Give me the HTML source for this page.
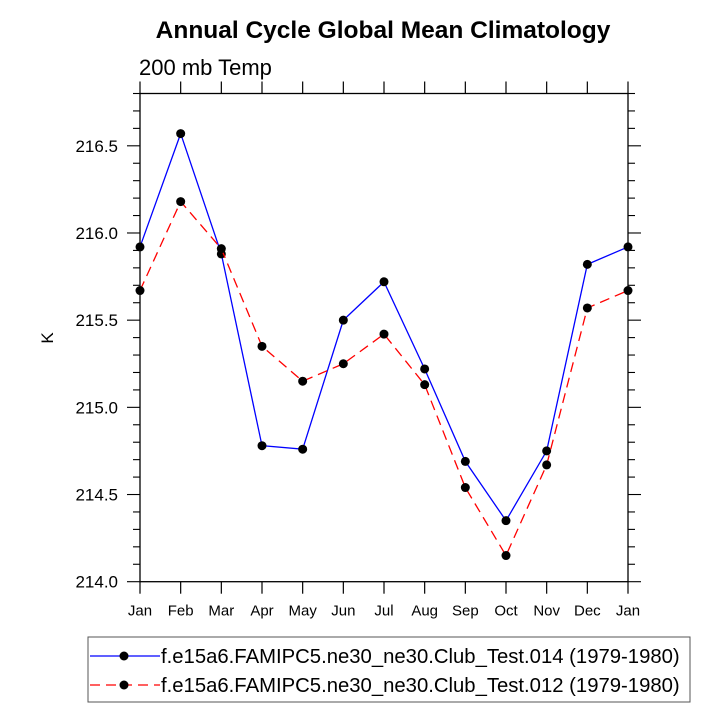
<!DOCTYPE html>
<html><head><meta charset="utf-8"><style>
body{margin:0;background:#fff}
svg{display:block;font-family:"Liberation Sans",Arial,sans-serif}
</style></head><body>
<svg id="c" width="722" height="722">
<text x="383" y="38" text-anchor="middle" font-size="24.5" font-weight="bold">Annual Cycle Global Mean Climatology</text>
<text x="139" y="75" font-size="22">200 mb Temp</text>
<text transform="translate(53,338) rotate(-90)" text-anchor="middle" font-size="17">K</text>
<g id="axes"></g>
<g id="series"></g>
<g>
<rect x="88" y="637" width="602" height="65" fill="none" stroke="#555" stroke-width="1"/>
<line x1="90" y1="656" x2="160" y2="656" stroke="#0000ff" stroke-width="1.3"/>
<circle cx="124" cy="656" r="4.5" fill="#000"/>
<text x="161" y="663" font-size="20.3">f.e15a6.FAMIPC5.ne30_ne30.Club_Test.014 (1979-1980)</text>
<line x1="90" y1="685" x2="160" y2="685" stroke="#ff0000" stroke-width="1.3" stroke-dasharray="10,6"/>
<circle cx="124" cy="685" r="4.5" fill="#000"/>
<text x="161" y="692" font-size="20.3">f.e15a6.FAMIPC5.ne30_ne30.Club_Test.012 (1979-1980)</text>
</g>
</svg>
<script>
const months=["Jan","Feb","Mar","Apr","May","Jun","Jul","Aug","Sep","Oct","Nov","Dec","Jan"];
const test014=[215.92,216.57,215.88,214.78,214.76,215.50,215.72,215.22,214.69,214.35,214.75,215.82,215.92];
const test012=[215.67,216.18,215.91,215.35,215.15,215.25,215.42,215.13,214.54,214.15,214.67,215.57,215.67];
const yTicks=["214.0","214.5","215.0","215.5","216.0","216.5"];
const L=140,R=628,T=93.5,B=581.7,YMIN=214,YMAX=216.8;
const x=i=>L+(R-L)*i/(months.length-1);
const y=v=>B-(B-T)*(v-YMIN)/(YMAX-YMIN);
const NS="http://www.w3.org/2000/svg";
function mk(tag,attrs,parent){const e=document.createElementNS(NS,tag);for(const k in attrs)e.setAttribute(k,attrs[k]);parent.appendChild(e);return e;}
const ax=document.getElementById('axes');
const fr=mk('rect',{x:L,y:T,width:R-L,height:B-T,fill:'none',stroke:'#000','stroke-width':1.3},ax);


months.forEach((m,i)=>{
  mk('line',{x1:x(i),y1:B,x2:x(i),y2:B+12,stroke:'#000','stroke-width':1.2},ax);
  mk('line',{x1:x(i),y1:T,x2:x(i),y2:T-12,stroke:'#000','stroke-width':1.2},ax);
  const t=mk('text',{x:x(i),y:B+34,'text-anchor':'middle','font-size':15},ax);
  t.textContent=m;
  
  
});
for(let k=0;k<=28;k++){
  const v=YMIN+k*0.1, yy=y(v), major=k%5===0;
  const len=major?13:7;
  mk('line',{x1:L,y1:yy,x2:L-len,y2:yy,stroke:'#000','stroke-width':1.1},ax);
  mk('line',{x1:R,y1:yy,x2:R+len,y2:yy,stroke:'#000','stroke-width':1.1},ax);
}
yTicks.forEach(s=>{
  const t=mk('text',{x:L-22,y:y(parseFloat(s))+6,'text-anchor':'end','font-size':17},ax);
  t.textContent=s;
  
  
});
const sg=document.getElementById('series');
function draw(vals,color,dash,name){
  const p=mk('polyline',{points:vals.map((v,i)=>x(i)+','+y(v)).join(' '),fill:'none',stroke:color,'stroke-width':1.3},sg);
  if(dash)p.setAttribute('stroke-dasharray',dash);
  
  
  vals.forEach((v,i)=>{
    const c=mk('circle',{cx:x(i),cy:y(v),r:4.5,fill:'#000'},sg);
    
    
  });
}
draw(test014,'#0000ff',null,'test014');
draw(test012,'#ff0000','10,6','test012');
</script>
</body></html>
